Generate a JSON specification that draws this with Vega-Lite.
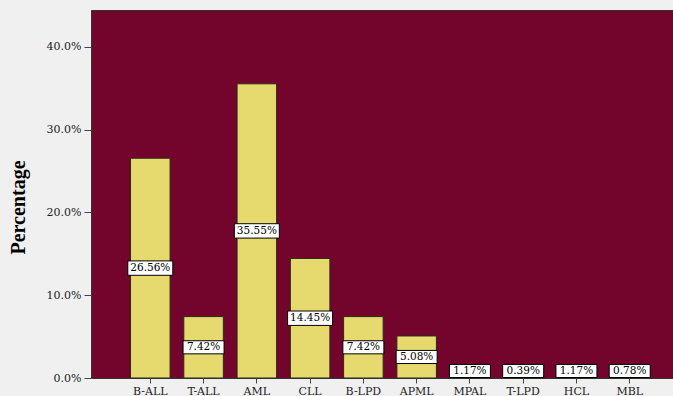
{
  "$schema": "https://vega.github.io/schema/vega-lite/v6.json",
  "width": 582,
  "height": 368,
  "autosize": {"type": "none"},
  "padding": {"left": 91, "top": 10, "right": 0, "bottom": 18},
  "background": "#f0f0f0",
  "config": {
    "view": {"fill": "#73042c", "stroke": "#333333", "strokeWidth": 1},
    "font": "DejaVu Serif"
  },
  "data": {
    "values": [
      {"type": "B-ALL", "pct": 26.56},
      {"type": "T-ALL", "pct": 7.42},
      {"type": "AML", "pct": 35.55},
      {"type": "CLL", "pct": 14.45},
      {"type": "B-LPD", "pct": 7.42},
      {"type": "APML", "pct": 5.08},
      {"type": "MPAL", "pct": 1.17},
      {"type": "T-LPD", "pct": 0.39},
      {"type": "HCL", "pct": 1.17},
      {"type": "MBL", "pct": 0.78}
    ]
  },
  "transform": [
    {"calculate": "format(datum.pct, '.2f') + '%'", "as": "label"},
    {"calculate": "max(datum.pct / 2, 0.85)", "as": "ly"}
  ],
  "encoding": {
    "x": {
      "field": "type",
      "type": "nominal",
      "sort": null,
      "scale": {"paddingInner": 0.258, "paddingOuter": 0.592, "align": 0.627},
      "axis": {
        "title": null,
        "labelAngle": 0,
        "labelFont": "DejaVu Serif",
        "labelFontSize": 11,
        "labelColor": "#222222",
        "labelPadding": 2,
        "tickSize": 5,
        "tickColor": "#444444",
        "domain": false
      }
    }
  },
  "layer": [
    {
      "mark": {"type": "bar", "fill": "#e6da6e", "stroke": "#2a2a1a", "strokeWidth": 1},
      "encoding": {
        "y": {
          "field": "pct",
          "type": "quantitative",
          "scale": {"domain": [0, 44.47], "nice": false},
          "axis": {
            "title": "Percentage",
            "titleFont": "Liberation Serif",
            "titleFontSize": 20,
            "titleFontWeight": "bold",
            "titleColor": "#000000",
            "titleAngle": 270,
            "titleX": -73,
            "titleY": 197,
            "titleAlign": "center",
            "titleBaseline": "middle",
            "values": [0, 10, 20, 30, 40],
            "labelExpr": "format(datum.value, '.1f') + '%'",
            "labelFont": "DejaVu Serif",
            "labelFontSize": 11,
            "labelColor": "#222222",
            "labelPadding": 3,
            "tickSize": 7,
            "tickColor": "#444444",
            "domain": false,
            "grid": false
          }
        }
      }
    },
    {
      "mark": {
        "type": "point",
        "shape": "M-1,-0.32H1V0.32H-1Z",
        "filled": true,
        "fill": "#ffffff",
        "stroke": "#000000",
        "strokeWidth": 1,
        "opacity": 1
      },
      "encoding": {
        "y": {"field": "ly", "type": "quantitative"},
        "size": {
          "condition": {"test": "datum.pct >= 10", "value": 2025},
          "value": 1681
        }
      }
    },
    {
      "mark": {
        "type": "text",
        "font": "DejaVu Serif",
        "fontSize": 10.5,
        "color": "#000000",
        "baseline": "middle",
        "align": "center"
      },
      "encoding": {
        "y": {"field": "ly", "type": "quantitative"},
        "text": {"field": "label"}
      }
    }
  ]
}
